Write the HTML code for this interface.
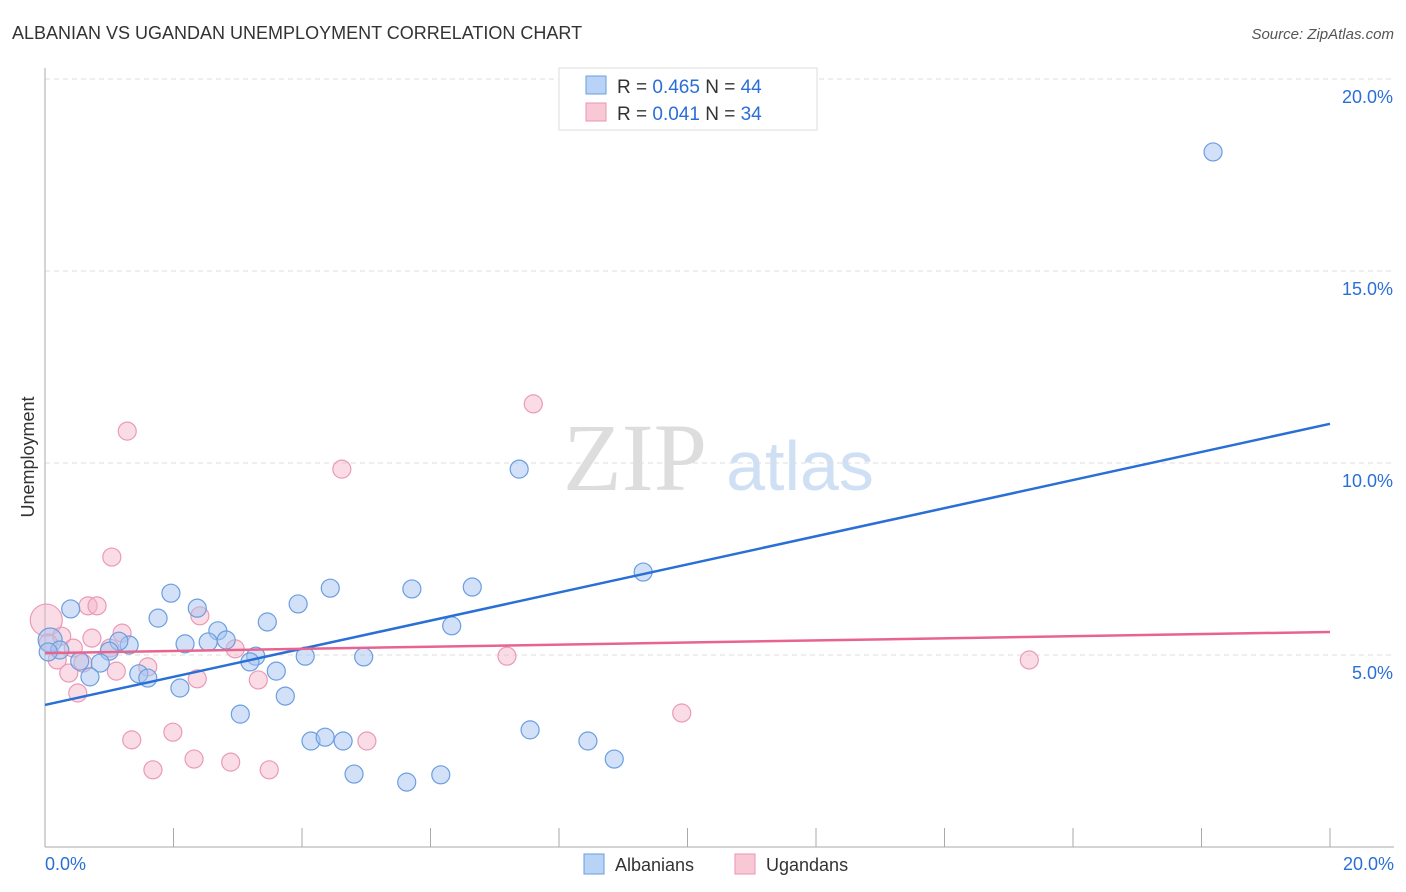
<!DOCTYPE html>
<html><head><meta charset="utf-8"><style>
body{margin:0;background:#fff;font-family:"Liberation Sans",sans-serif}
svg{display:block}
</style></head><body>
<svg id="chart" width="1406" height="892">
<text x="12" y="39" font-size="18" fill="#333">ALBANIAN VS UGANDAN UNEMPLOYMENT CORRELATION CHART</text>
<text x="1394" y="39" font-size="15" fill="#555" font-style="italic" text-anchor="end">Source: ZipAtlas.com</text>
<text x="635" y="490" font-size="96" fill="#ddd" font-family="Liberation Serif,serif" text-anchor="middle">ZIP</text>
<text x="800" y="490" font-size="70" fill="#cfe0f5" text-anchor="middle">atlas</text>
<g id="grid"></g><g id="axes"></g><g id="points"></g><g id="lines"></g>
<text transform="translate(34,457) rotate(-90)" font-size="18" fill="#333" text-anchor="middle">Unemployment</text>
<g>
<rect x="559" y="68" width="258" height="62" fill="#fff" stroke="#ddd"/>
<rect x="586" y="76" width="20" height="18" fill="#b8d3f5" stroke="#6a9ee0"/>
<text x="617" y="93" font-size="19" fill="#333">R = <tspan fill="#2a6fd6">0.465</tspan>   N = <tspan fill="#2a6fd6">44</tspan></text>
<rect x="586" y="103" width="20" height="18" fill="#f8c8d6" stroke="#e896b0"/>
<text x="617" y="120" font-size="19" fill="#333">R = <tspan fill="#2a6fd6">0.041</tspan>   N = <tspan fill="#2a6fd6">34</tspan></text>
</g>
<g>
<rect x="584" y="854" width="20" height="20" fill="#b8d3f5" stroke="#6a9ee0"/>
<text x="615" y="871" font-size="18" fill="#333">Albanians</text>
<rect x="735" y="854" width="20" height="20" fill="#f8c8d6" stroke="#e896b0"/>
<text x="766" y="871" font-size="18" fill="#333">Ugandans</text>
</g>
</svg>
<script>
const blueX=[18.18,7.38,9.31,6.65,5.71,4.44,1.96,3.94,2.37,0.40,1.76,3.46,6.33,2.69,2.82,2.54,2.18,1.31,1.15,0.08,0.23,0.05,1.00,0.86,0.54,3.28,3.19,4.05,4.96,3.60,1.46,1.60,0.70,2.10,3.74,3.04,7.55,4.14,4.36,4.64,8.45,8.86,4.81,6.16,5.63];
const blueY=[18.10,9.84,7.16,6.77,6.72,6.74,6.61,6.33,6.22,6.20,5.96,5.86,5.76,5.63,5.39,5.34,5.29,5.26,5.36,5.39,5.13,5.08,5.10,4.79,4.84,4.97,4.82,4.97,4.95,4.58,4.51,4.40,4.43,4.14,3.93,3.46,3.05,2.76,2.86,2.76,2.76,2.29,1.90,1.88,1.69];
const pinkX=[7.60,1.28,4.62,1.04,0.67,0.81,2.41,0.02,1.20,0.73,0.26,2.96,1.01,0.44,0.05,0.19,0.59,1.60,1.11,0.37,2.37,3.32,7.19,15.32,0.51,9.91,1.99,1.35,5.01,2.32,2.89,1.68,3.49];
const pinkY=[11.54,10.83,9.84,7.55,6.28,6.28,6.02,5.91,5.57,5.44,5.49,5.16,5.18,5.18,5.31,4.87,4.79,4.69,4.58,4.53,4.38,4.35,4.97,4.87,4.01,3.49,2.99,2.79,2.76,2.29,2.21,2.01,2.01];
const blueTrend=[3.70,11.02];
const pinkTrend=[5.05,5.60];
const yTicks=[5,10,15,20];
const xTickLabels=["0.0%","20.0%"];
const NS="http://www.w3.org/2000/svg";
const sx=v=>45+v*64.25, sy=v=>847-v*38.4;
function mk(tag,attrs,parent){const e=document.createElementNS(NS,tag);for(const k in attrs)e.setAttribute(k,attrs[k]);parent.appendChild(e);return e;}
const grid=document.getElementById('grid'),axes=document.getElementById('axes'),pts=document.getElementById('points'),lines=document.getElementById('lines');
yTicks.forEach(t=>{
 const l=mk('line',{x1:45,x2:1394,y1:sy(t),y2:sy(t),stroke:'#ddd','stroke-dasharray':'5,4'},grid);
 
 
 const tx=mk('text',{x:1393,y:sy(t)+24,'font-size':18,fill:'#2a6fd6','text-anchor':'end'},grid);
 tx.textContent=t.toFixed(1)+'%';
 
 
});
const ya=mk('line',{x1:45,x2:45,y1:68,y2:847,stroke:'#aaa'},axes);


const xa=mk('line',{x1:45,x2:1394,y1:847,y2:847,stroke:'#aaa'},axes);


for(let i=1;i<=10;i++){
 const t=mk('line',{x1:sx(i*2),x2:sx(i*2),y1:828,y2:847,stroke:'#aaa'},axes);
 
 
}
[[0,'start'],[20,'end']].forEach((p,i)=>{
 const tx=mk('text',{x:i?1394:45,y:870,'font-size':18,fill:'#2a6fd6','text-anchor':p[1]},axes);
 tx.textContent=xTickLabels[i];
 
 
});
pinkX.forEach((x,i)=>{
 const c=mk('circle',{cx:sx(x),cy:sy(pinkY[i]),r:(i==7?16:9),fill:'rgba(244,178,200,0.45)',stroke:'#eb9ab4','stroke-width':1.2},pts);
 
 
});
blueX.forEach((x,i)=>{
 const c=mk('circle',{cx:sx(x),cy:sy(blueY[i]),r:(i==19?12:9),fill:'rgba(165,196,240,0.5)',stroke:'#6a9ee0','stroke-width':1.2},pts);
 
 
});
const bl=mk('line',{x1:sx(0),y1:sy(blueTrend[0]),x2:sx(20),y2:sy(blueTrend[1]),stroke:'#2a6fd6','stroke-width':2.5},lines);


const pl=mk('line',{x1:sx(0),y1:sy(pinkTrend[0]),x2:sx(20),y2:sy(pinkTrend[1]),stroke:'#e8648f','stroke-width':2.5},lines);


</script>
</body></html>
